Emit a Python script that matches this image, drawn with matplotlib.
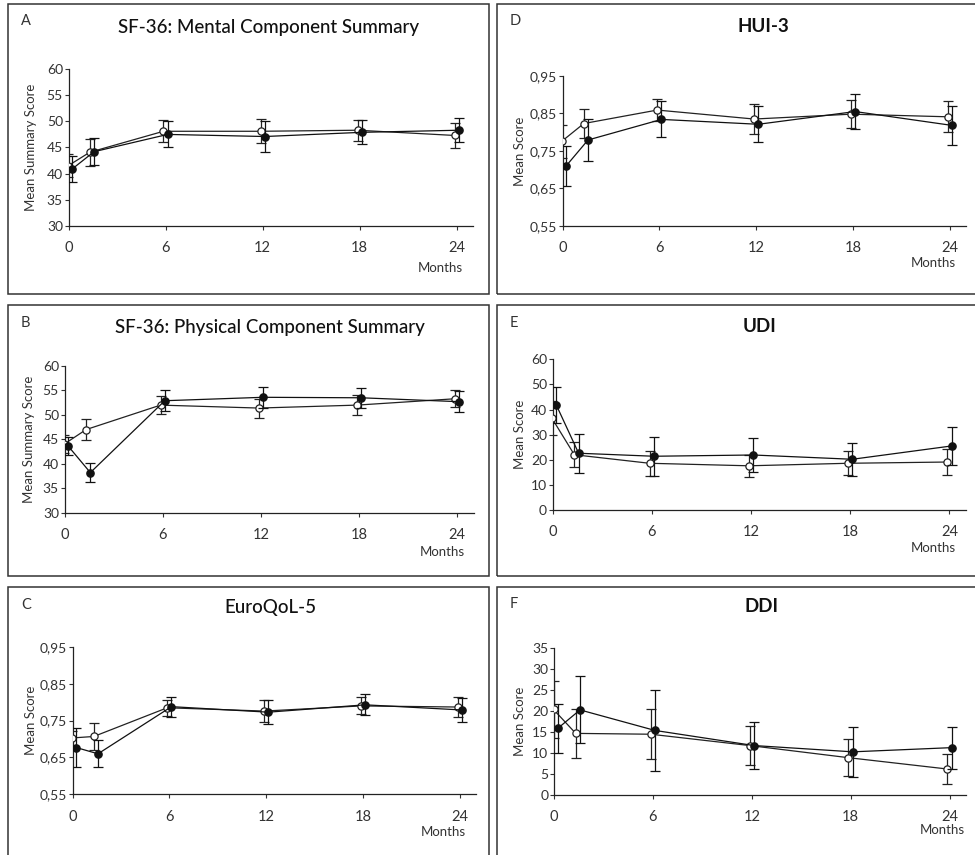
import matplotlib
matplotlib.use("Agg")
import matplotlib.pyplot as plt
from matplotlib.patches import Rectangle
from matplotlib.ticker import FuncFormatter

plt.rcParams['font.family'] = ['Lato', 'DejaVu Sans']

W, H = 975, 855

# visit times (months); the two groups are drawn slightly apart
months = [0.1, 1.45, 6, 12, 18, 24]
offset = 0.13

# A: SF-36 mental
mcs_open = [41.5, 44.1, 48.1, 48.1, 48.3, 47.3]
mcs_open_err = [2.2, 2.6, 2.1, 2.3, 2.0, 2.4]
mcs_fill = [40.9, 44.2, 47.5, 47.1, 47.9, 48.3]
mcs_fill_err = [2.5, 2.6, 2.5, 2.9, 2.3, 2.3]

# B: SF-36 physical
pcs_open = [44.0, 47.0, 52.0, 51.4, 52.0, 53.3]
pcs_open_err = [1.8, 2.1, 1.9, 1.95, 2.0, 1.75]
pcs_fill = [43.6, 38.2, 52.9, 53.6, 53.5, 52.7]
pcs_fill_err = [1.8, 2.0, 2.1, 2.15, 2.1, 2.1]

# C: EuroQoL-5
eq_open = [0.703, 0.707, 0.785, 0.776, 0.790, 0.787]
eq_open_err = [0.018, 0.037, 0.022, 0.029, 0.023, 0.026]
eq_fill = [0.677, 0.660, 0.788, 0.773, 0.793, 0.779]
eq_fill_err = [0.054, 0.037, 0.027, 0.033, 0.029, 0.033]

# D: HUI-3
hui_open = [0.776, 0.823, 0.859, 0.835, 0.848, 0.841]
hui_open_err = [0.044, 0.039, 0.029, 0.040, 0.038, 0.041]
hui_fill = [0.710, 0.779, 0.834, 0.821, 0.855, 0.818]
hui_fill_err = [0.054, 0.056, 0.048, 0.048, 0.046, 0.052]

# E: UDI
udi_open = [36.5, 22.0, 18.6, 17.6, 18.6, 19.1]
udi_open_err = [6.8, 5.0, 5.0, 4.4, 4.8, 5.2]
udi_fill = [41.8, 22.6, 21.4, 21.9, 20.2, 25.5]
udi_fill_err = [7.3, 7.7, 7.8, 6.6, 6.6, 7.5]

# F: DDI
ddi_open = [20.4, 14.7, 14.5, 11.8, 8.9, 6.2]
ddi_open_err = [6.8, 5.8, 5.9, 4.7, 4.4, 3.6]
ddi_fill = [15.9, 20.3, 15.4, 11.8, 10.3, 11.3]
ddi_fill_err = [5.8, 8.0, 9.6, 5.7, 5.9, 5.0]

xticks = [0, 6, 12, 18, 24]

fig = plt.figure(figsize=(W / 100, H / 100), dpi=100)
fig.patch.set_facecolor('white')


def fx(px):
    return px / W


def fy(py):
    return 1 - py / H


def box(x0, y0, x1, y1):
    r = Rectangle((fx(x0), fy(y1)), fx(x1 - x0), (y1 - y0) / H,
                  transform=fig.transFigure, fill=False,
                  edgecolor='#333333', lw=1.1, clip_on=False)
    fig.patches.append(r)


def comma(v, pos):
    return ('%.2f' % v).replace('.', ',')


def panel(letter, title, axpx, yl, yticks, ylabel, op, ope, fi, fie,
          letter_xy, title_xy, months_xy, ylab_x, dec=False, bold=False):
    x0, top, right, bot = axpx
    ax = fig.add_axes([fx(x0), fy(bot), fx(right - x0), (bot - top) / H])
    xo = [m - offset for m in months]
    xf = [m + offset for m in months]
    ax.errorbar(xo, op, yerr=ope, color='#222222', lw=0.9, elinewidth=0.9,
                capsize=3.5, capthick=0.9, marker='o', ms=5.2,
                mfc='white', mec='#222222', mew=0.9, zorder=3)
    ax.errorbar(xf, fi, yerr=fie, color='#111111', lw=0.9, elinewidth=0.9,
                capsize=3.5, capthick=0.9, marker='o', ms=5.2,
                mfc='#111111', mec='#111111', zorder=4)
    ax.set_xlim(0, 25)
    ax.set_ylim(*yl)
    ax.set_xticks(xticks)
    ax.set_yticks(yticks)
    if dec:
        ax.yaxis.set_major_formatter(FuncFormatter(comma))
    for s in ['top', 'right']:
        ax.spines[s].set_visible(False)
    for s in ['left', 'bottom']:
        ax.spines[s].set_color('#222222')
        ax.spines[s].set_linewidth(0.9)
    ax.tick_params(axis='x', direction='out', length=3, width=0.8,
                   pad=8, labelsize=10.5, colors='#333333')
    ax.tick_params(axis='y', direction='out', length=3, width=0.8,
                   pad=1, labelsize=10, colors='#333333')
    ax.set_facecolor('none')
    fig.text(fx(ylab_x), fy((top + bot) / 2), ylabel, rotation=90,
             ha='center', va='center', fontsize=9.5, color='#333333')
    fig.text(fx(letter_xy[0]), fy(letter_xy[1]), letter, ha='left',
             va='center', fontsize=10.5, color='#333333')
    fig.text(fx(title_xy[0]), fy(title_xy[1]), title, ha='center',
             va='center', fontsize=13.5, color='#111111',
             fontweight='bold' if bold else 'medium')
    fig.text(fx(months_xy[0]), fy(months_xy[1]), 'Months', ha='center',
             va='center', fontsize=9.5, color='#333333')


# frames
box(8, 4, 488.5, 294)
box(8, 304.5, 488.5, 575.5)
box(8, 586.5, 488.5, 900)
box(497.5, 4, 1000, 294)
box(497.5, 304.5, 1000, 575.5)
box(497.5, 586.5, 1000, 900)

panel('A', 'SF-36: Mental Component Summary', (68.5, 69, 473, 226),
      (30, 60), [30, 35, 40, 45, 50, 55, 60], 'Mean Summary Score',
      mcs_open, mcs_open_err, mcs_fill, mcs_fill_err,
      (21, 21), (269, 28), (440, 268), 31)
panel('B', 'SF-36: Physical Component Summary', (64.5, 366, 473.5, 512.7),
      (30, 60), [30, 35, 40, 45, 50, 55, 60], 'Mean Summary Score',
      pcs_open, pcs_open_err, pcs_fill, pcs_fill_err,
      (21, 323), (270, 327), (442, 552), 29)
panel('C', 'EuroQoL-5', (72.5, 647, 476, 794.3),
      (0.55, 0.95), [0.55, 0.65, 0.75, 0.85, 0.95], 'Mean Score',
      eq_open, eq_open_err, eq_fill, eq_fill_err,
      (21, 605), (270, 607), (443, 832), 31, dec=True)
panel('D', 'HUI-3', (562.5, 76, 966, 225.7),
      (0.55, 0.95), [0.55, 0.65, 0.75, 0.85, 0.95], 'Mean Score',
      hui_open, hui_open_err, hui_fill, hui_fill_err,
      (510, 21), (763, 27), (933, 263), 520, dec=True, bold=True)
panel('E', 'UDI', (552.5, 359.3, 966, 510),
      (0, 60), [0, 10, 20, 30, 40, 50, 60], 'Mean Score',
      udi_open, udi_open_err, udi_fill, udi_fill_err,
      (510, 323), (760, 326), (933, 548), 520, bold=True)
panel('F', 'DDI', (554, 648.3, 966, 795),
      (0, 35), [0, 5, 10, 15, 20, 25, 30, 35], 'Mean Score',
      ddi_open, ddi_open_err, ddi_fill, ddi_fill_err,
      (510, 604), (762, 606), (942, 830), 520, bold=True)

fig.savefig('out.png', dpi=100)
